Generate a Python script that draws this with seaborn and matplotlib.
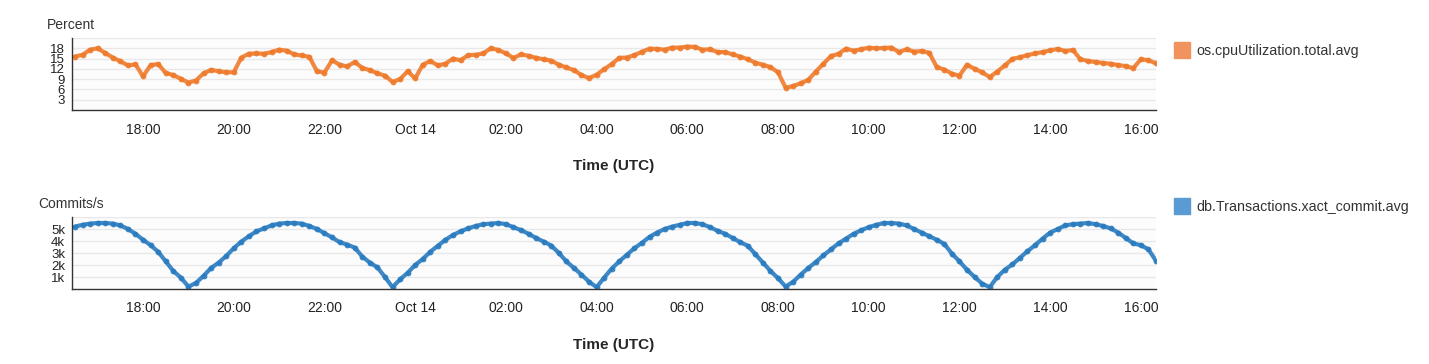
import pandas as pd
import matplotlib.pyplot as plt
import matplotlib.dates as mdates
from matplotlib.lines import Line2D
from matplotlib.ticker import FuncFormatter
import seaborn as sns

# readings every 10 minutes, 16:30 Oct 13 -> 16:20 Oct 14 (UTC)
times = pd.date_range("2023-10-13 16:30", periods=144, freq="10min")

cpu_pct = [
    15.6, 16.1, 17.6, 18.0, 16.6, 15.3, 14.2, 13.0, 13.3, 9.8, 13.1, 13.4,
    10.8, 10.2, 9.1, 8.0, 8.6, 10.7, 11.7, 11.3, 11.0, 11.0, 15.3, 16.4,
    16.5, 16.4, 16.9, 17.6, 17.3, 16.2, 15.9, 15.5, 11.3, 10.9, 14.5, 13.2,
    12.7, 14.0, 12.3, 11.6, 10.7, 10.0, 8.2, 9.0, 11.3, 9.2, 13.2, 14.3,
    13.0, 13.5, 15.0, 14.5, 16.0, 16.1, 16.5, 18.0, 17.5, 16.5, 15.2, 16.2,
    15.8, 15.2, 14.8, 14.4, 13.2, 12.4, 11.6, 10.2, 9.3, 10.3, 11.9, 13.4,
    15.2, 15.3, 16.0, 17.0, 17.9, 17.8, 17.6, 18.2, 18.2, 18.5, 18.4, 17.6,
    17.7, 16.9, 16.9, 16.2, 15.6, 14.8, 13.8, 13.2, 12.5, 11.0, 6.5, 7.0,
    7.8, 8.8, 11.2, 13.5, 15.7, 16.4, 17.9, 17.3, 17.7, 18.2, 18.0, 18.1,
    18.2, 16.9, 17.7, 17.0, 17.2, 16.7, 12.5, 11.8, 10.6, 10.0, 13.2, 12.0,
    11.0, 9.6, 11.2, 13.0, 14.9, 15.4, 16.0, 16.5, 16.9, 17.4, 17.8, 17.2,
    17.5, 14.8, 14.3, 14.0, 13.7, 13.5, 13.1, 12.8, 12.2, 14.8, 14.5, 13.6,
]

commits = [
    5200, 5350, 5450, 5500, 5500, 5450, 5300, 5000, 4600, 4100, 3650, 3100,
    2300, 1500, 950, 200, 500, 1100, 1750, 2200, 2750, 3400, 3950, 4400,
    4800, 5050, 5300, 5450, 5500, 5500, 5450, 5250, 5000, 4650, 4300, 3900,
    3700, 3450, 2700, 2200, 1800, 1000, 150, 800, 1350, 2000, 2500, 3100,
    3600, 4100, 4500, 4800, 5050, 5250, 5400, 5450, 5500, 5400, 5150, 4900,
    4600, 4250, 3950, 3620, 3000, 2300, 1750, 1200, 600, 150, 950, 1700,
    2300, 2850, 3400, 3850, 4350, 4700, 5000, 5200, 5350, 5500, 5500, 5400,
    5150, 4850, 4600, 4250, 3900, 3600, 2900, 2200, 1500, 900, 200, 600,
    1200, 1750, 2250, 2800, 3300, 3800, 4200, 4600, 4900, 5150, 5350, 5500,
    5500, 5450, 5300, 5000, 4700, 4400, 4100, 3750, 2950, 2300, 1600, 1000,
    450, 150, 1000, 1600, 2050, 2600, 3150, 3650, 4200, 4700, 5000, 5300,
    5400, 5450, 5500, 5400, 5250, 5050, 4700, 4250, 3800, 3650, 3300, 2350,
]

cpu_ticks = [3, 6, 9, 12, 15, 18]
commit_ticks = [1000, 2000, 3000, 4000, 5000]

df = pd.DataFrame({"time": times, "cpu": cpu_pct, "commits": commits})

sns.set_theme(style="white")
plt.rcParams["font.family"] = ["Liberation Sans", "DejaVu Sans"]

W, H = 1429, 364
fig = plt.figure(figsize=(W / 100, H / 100), dpi=100)

left = 72 / W
width = (1156 - 72) / W
ax1 = fig.add_axes([left, 1 - 110 / H, width, 72 / H])
ax2 = fig.add_axes([left, 1 - 289 / H, width, 72 / H])


def time_fmt(x, pos):
    d = mdates.num2date(x)
    if d.hour == 0 and d.minute == 0:
        return d.strftime("%b %d")
    return d.strftime("%H:%M")


panels = [
    (ax1, "cpu", "#ef7b2c", "#f0935f", (0, 21), cpu_ticks, "Percent",
     "os.cpuUtilization.total.avg", 25, 47, 51),
    (ax2, "commits", "#2a7cc0", "#5b9bd4", (0, 6000), commit_ticks, "Commits/s",
     "db.Transactions.xact_commit.avg", 204, 38, 207),
]

for ax, col, c, lc, ylim, yt, ylab, leg, ylab_y, ylab_x, leg_y in panels:
    sns.lineplot(data=df, x="time", y=col, ax=ax, color=c, lw=3,
                 marker="o", markersize=4.2, markeredgewidth=0, alpha=0.9)
    ax.set_facecolor("#fcfcfc")
    ax.set_xlim(pd.Timestamp("2023-10-13 16:26"), pd.Timestamp("2023-10-14 16:20"))
    ax.set_ylim(*ylim)
    ax.set_yticks(yt)
    if col == "commits":
        ax.yaxis.set_major_formatter(FuncFormatter(lambda v, p: f"{int(v / 1000)}k"))
    for v in yt + [ylim[1]]:
        ax.axhline(v, color="#e8e8e8", lw=1, zorder=0)
    ax.xaxis.set_major_locator(mdates.HourLocator(byhour=range(0, 24, 2)))
    ax.xaxis.set_major_formatter(FuncFormatter(time_fmt))
    for s in ["top", "right"]:
        ax.spines[s].set_visible(False)
    for s in ["left", "bottom"]:
        ax.spines[s].set_color("#333333")
        ax.spines[s].set_linewidth(1)
    ax.tick_params(axis="x", length=5, width=1, color="#333333",
                   labelsize=10, labelcolor="#222222", pad=4)
    ax.tick_params(axis="y", length=4, width=1, color="#333333",
                   labelsize=9.5, labelcolor="#222222", pad=1)
    ax.set_ylabel("")
    ax.set_xlabel("Time (UTC)", fontsize=11, fontweight="bold", va="center")
    ax.xaxis.set_label_coords(0.5, -56 / 72)
    fig.text(ylab_x / W, 1 - ylab_y / H, ylab, fontsize=10, color="#333333",
             ha="left", va="center")
    handle = Line2D([], [], marker="s", ls="", color=lc, markersize=11)
    ax.legend([handle], [leg], loc="center left",
              bbox_to_anchor=(1175 / W, 1 - leg_y / H), bbox_transform=fig.transFigure,
              frameon=False, borderpad=0, borderaxespad=0, handlelength=1,
              handletextpad=0.5, fontsize=10.3, labelcolor="#333333")

plt.savefig("out.png", dpi=100)
plt.close()
